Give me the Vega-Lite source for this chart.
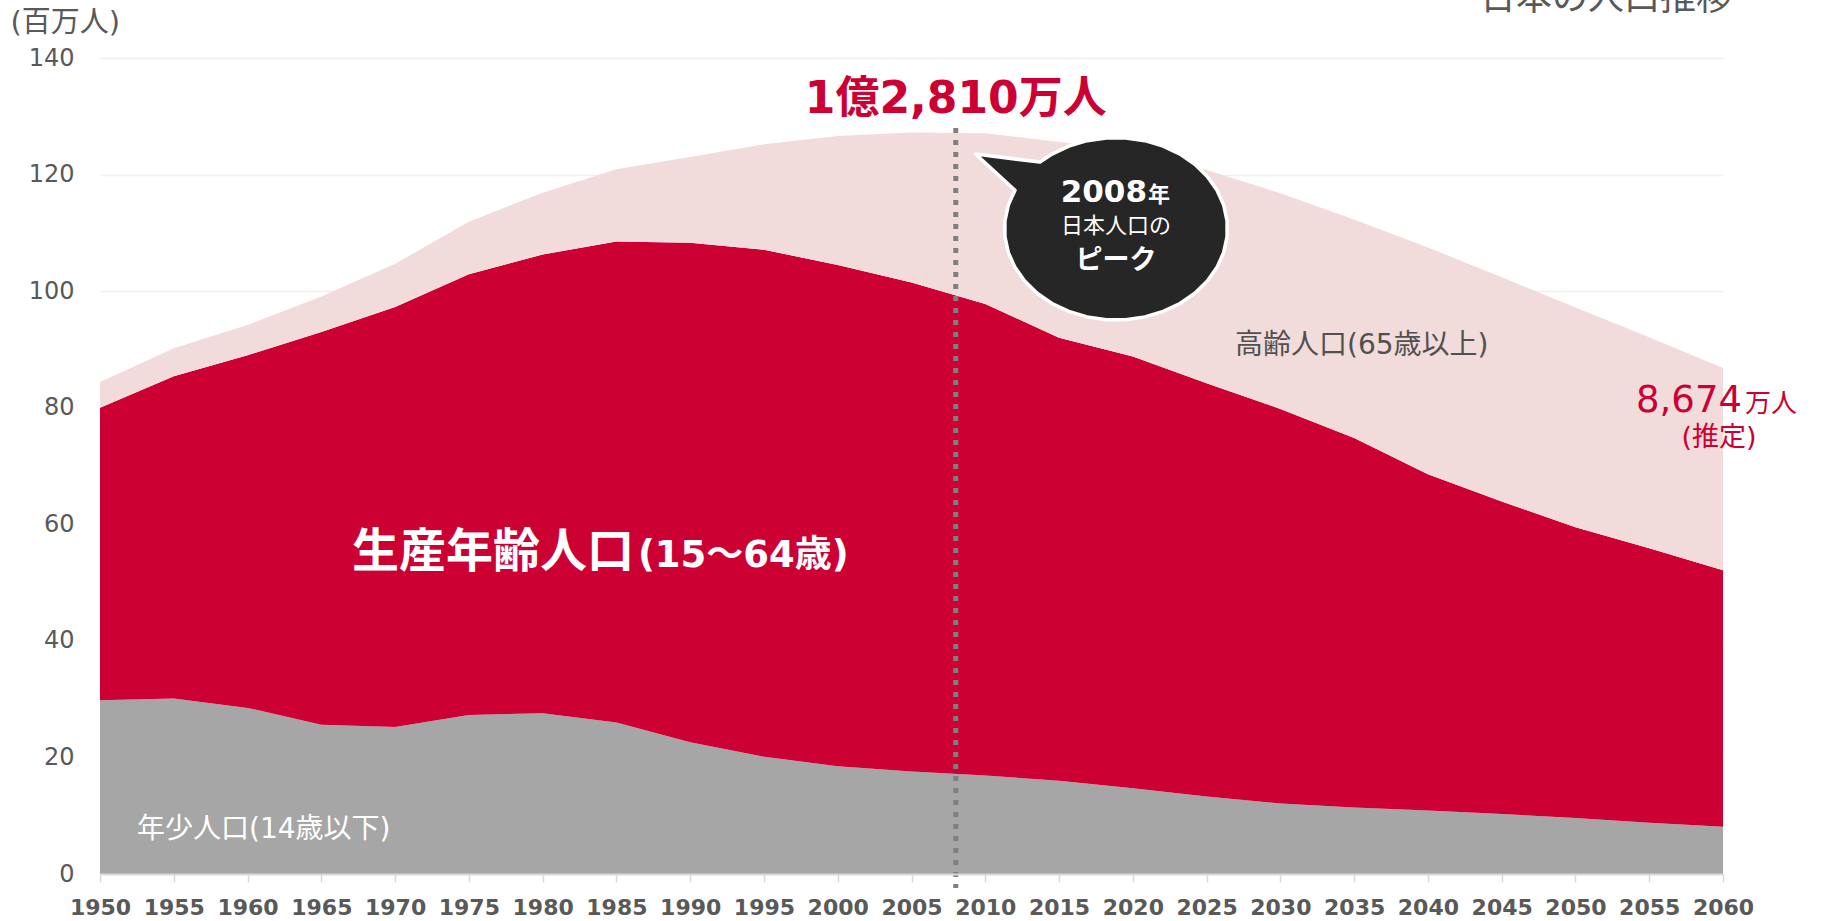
{
  "$schema": "https://vega.github.io/schema/vega-lite/v6.json",
  "width": 1623,
  "height": 816,
  "autosize": {"type": "none"},
  "padding": {"left": 100, "top": 58, "right": 98, "bottom": 47},
  "background": "white",
  "config": {"view": {"stroke": null}},
  "datasets": {
    "pop": [
      {"year": 1950, "group": "年少人口", "value": 29.8}, {"year": 1950, "group": "生産年齢人口", "value": 50.2}, {"year": 1950, "group": "高齢人口", "value": 4.4},
      {"year": 1955, "group": "年少人口", "value": 30.1}, {"year": 1955, "group": "生産年齢人口", "value": 55.3}, {"year": 1955, "group": "高齢人口", "value": 4.8},
      {"year": 1960, "group": "年少人口", "value": 28.5}, {"year": 1960, "group": "生産年齢人口", "value": 60.5}, {"year": 1960, "group": "高齢人口", "value": 5.2},
      {"year": 1965, "group": "年少人口", "value": 25.6}, {"year": 1965, "group": "生産年齢人口", "value": 67.4}, {"year": 1965, "group": "高齢人口", "value": 6.1},
      {"year": 1970, "group": "年少人口", "value": 25.2}, {"year": 1970, "group": "生産年齢人口", "value": 72.1}, {"year": 1970, "group": "高齢人口", "value": 7.4},
      {"year": 1975, "group": "年少人口", "value": 27.3}, {"year": 1975, "group": "生産年齢人口", "value": 75.6}, {"year": 1975, "group": "高齢人口", "value": 9.0},
      {"year": 1980, "group": "年少人口", "value": 27.6}, {"year": 1980, "group": "生産年齢人口", "value": 78.7}, {"year": 1980, "group": "高齢人口", "value": 10.6},
      {"year": 1985, "group": "年少人口", "value": 26.0}, {"year": 1985, "group": "生産年齢人口", "value": 82.5}, {"year": 1985, "group": "高齢人口", "value": 12.4},
      {"year": 1990, "group": "年少人口", "value": 22.6}, {"year": 1990, "group": "生産年齢人口", "value": 85.7}, {"year": 1990, "group": "高齢人口", "value": 14.7},
      {"year": 1995, "group": "年少人口", "value": 20.1}, {"year": 1995, "group": "生産年齢人口", "value": 87.0}, {"year": 1995, "group": "高齢人口", "value": 18.1},
      {"year": 2000, "group": "年少人口", "value": 18.5}, {"year": 2000, "group": "生産年齢人口", "value": 86.0}, {"year": 2000, "group": "高齢人口", "value": 22.1},
      {"year": 2005, "group": "年少人口", "value": 17.6}, {"year": 2005, "group": "生産年齢人口", "value": 83.9}, {"year": 2005, "group": "高齢人口", "value": 25.7},
      {"year": 2010, "group": "年少人口", "value": 16.9}, {"year": 2010, "group": "生産年齢人口", "value": 80.9}, {"year": 2010, "group": "高齢人口", "value": 29.3},
      {"year": 2015, "group": "年少人口", "value": 16.0}, {"year": 2015, "group": "生産年齢人口", "value": 76.0}, {"year": 2015, "group": "高齢人口", "value": 33.6},
      {"year": 2020, "group": "年少人口", "value": 14.7}, {"year": 2020, "group": "生産年齢人口", "value": 74.1}, {"year": 2020, "group": "高齢人口", "value": 35.2},
      {"year": 2025, "group": "年少人口", "value": 13.3}, {"year": 2025, "group": "生産年齢人口", "value": 70.9}, {"year": 2025, "group": "高齢人口", "value": 36.6},
      {"year": 2030, "group": "年少人口", "value": 12.1}, {"year": 2030, "group": "生産年齢人口", "value": 67.7}, {"year": 2030, "group": "高齢人口", "value": 37.0},
      {"year": 2035, "group": "年少人口", "value": 11.4}, {"year": 2035, "group": "生産年齢人口", "value": 63.4}, {"year": 2035, "group": "高齢人口", "value": 37.5},
      {"year": 2040, "group": "年少人口", "value": 10.9}, {"year": 2040, "group": "生産年齢人口", "value": 57.7}, {"year": 2040, "group": "高齢人口", "value": 38.9},
      {"year": 2045, "group": "年少人口", "value": 10.3}, {"year": 2045, "group": "生産年齢人口", "value": 53.6}, {"year": 2045, "group": "高齢人口", "value": 38.5},
      {"year": 2050, "group": "年少人口", "value": 9.6}, {"year": 2050, "group": "生産年齢人口", "value": 49.9}, {"year": 2050, "group": "高齢人口", "value": 37.7},
      {"year": 2055, "group": "年少人口", "value": 8.8}, {"year": 2055, "group": "生産年齢人口", "value": 47.1}, {"year": 2055, "group": "高齢人口", "value": 36.2},
      {"year": 2060, "group": "年少人口", "value": 8.1}, {"year": 2060, "group": "生産年齢人口", "value": 44.0}, {"year": 2060, "group": "高齢人口", "value": 34.7}
    ]
  },
  "layer": [
    {
      "data": {"name": "pop"},
      "mark": {"type": "area", "opacity": 1},
      "encoding": {
        "x": {
          "field": "year", "type": "quantitative",
          "scale": {"domain": [1950, 2060], "nice": false, "zero": false},
          "axis": {
            "title": null,
            "values": [1950, 1955, 1960, 1965, 1970, 1975, 1980, 1985, 1990, 1995, 2000, 2005, 2010, 2015, 2020, 2025, 2030, 2035, 2040, 2045, 2050, 2055, 2060],
            "format": "d", "grid": false, "zindex": 1,
            "labelFont": "DejaVu Sans", "labelFontSize": 22, "labelFontWeight": "bold", "labelColor": "#595959",
            "labelPadding": 15, "labelFlush": false, "labelOverlap": false,
            "domainColor": "#D9D9D9", "domainWidth": 2,
            "tickColor": "#D9D9D9", "tickWidth": 1.5, "tickSize": 8
          }
        },
        "y": {
          "field": "value", "type": "quantitative", "stack": "zero",
          "scale": {"domain": [0, 140], "nice": false},
          "axis": {
            "title": "(百万人)",
            "titleAngle": 0, "titleAlign": "left", "titleBaseline": "alphabetic",
            "titleX": -90, "titleY": -27,
            "titleFont": "DejaVu Sans, Noto Sans CJK JP", "titleFontSize": 29, "titleFontWeight": "normal", "titleColor": "#595959",
            "values": [0, 20, 40, 60, 80, 100, 120, 140],
            "domain": false, "ticks": false, "labelPadding": 26,
            "labelFont": "DejaVu Sans", "labelFontSize": 24, "labelColor": "#595959",
            "grid": true, "gridColor": "#F0F0F0", "gridWidth": 1.5
          }
        },
        "color": {
          "field": "group", "type": "nominal",
          "scale": {"domain": ["年少人口", "生産年齢人口", "高齢人口"], "range": ["#A6A6A6", "#CC0033", "#F2DCDB"]},
          "legend": null
        },
        "order": {"field": "group", "sort": "ascending"}
      }
    },
    {
      "data": {"values": [{"year": 2008}]},
      "mark": {"type": "rule", "color": "#7F7F7F", "strokeWidth": 5, "strokeDash": [5, 7], "strokeCap": "butt"},
      "encoding": {
        "x": {"field": "year", "type": "quantitative"},
        "y": {"datum": 128, "type": "quantitative"},
        "y2": {"datum": -2.4}
      }
    },
    {
      "data": {"values": [{"year": 2018.86, "value": 110.7}]},
      "mark": {
        "type": "point", "filled": true, "opacity": 1,
        "shape": "M -1.26 -0.67 L -0.682 -0.598 L -0.574 -0.670 L -0.423 -0.741 L -0.259 -0.790 L -0.087 -0.815 L 0.087 -0.815 L 0.259 -0.790 L 0.423 -0.741 L 0.574 -0.670 L 0.707 -0.578 L 0.819 -0.469 L 0.906 -0.346 L 0.966 -0.212 L 0.996 -0.071 L 0.996 0.071 L 0.966 0.212 L 0.906 0.346 L 0.819 0.469 L 0.707 0.578 L 0.574 0.670 L 0.423 0.741 L 0.259 0.790 L 0.087 0.815 L -0.087 0.815 L -0.259 0.790 L -0.423 0.741 L -0.574 0.670 L -0.707 0.578 L -0.819 0.469 L -0.906 0.346 L -0.966 0.212 L -0.996 0.071 L -0.996 -0.071 L -0.966 -0.212 L -0.906 -0.346 Z",
        "size": 49729, "color": "#262626", "fill": "#262626", "stroke": "#FFFFFF", "strokeWidth": 3.5, "strokeJoin": "round"
      },
      "encoding": {
        "x": {"field": "year", "type": "quantitative"},
        "y": {"field": "value", "type": "quantitative"}
      }
    },
    {
      "data": {"values": [{"label": "1億2,810万人", "year": 2008, "value": 130.6}]},
      "mark": {"type": "text", "align": "center", "baseline": "alphabetic", "font": "DejaVu Sans, Noto Sans CJK JP", "fontSize": 44, "fontWeight": "bold", "color": "#CC0033"},
      "encoding": {
        "x": {"field": "year", "type": "quantitative"},
        "y": {"field": "value", "type": "quantitative"},
        "text": {"field": "label"}
      }
    },
    {
      "data": {"values": [{"label": "2008", "year": 2018.86, "value": 115.3}]},
      "mark": {"type": "text", "align": "right", "dx": 31, "baseline": "alphabetic", "font": "DejaVu Sans", "fontSize": 31, "fontWeight": "bold", "color": "#FFFFFF"},
      "encoding": {
        "x": {"field": "year", "type": "quantitative"},
        "y": {"field": "value", "type": "quantitative"},
        "text": {"field": "label"}
      }
    },
    {
      "data": {"values": [{"label": "年", "year": 2018.86, "value": 115.3}]},
      "mark": {"type": "text", "align": "left", "dx": 32, "baseline": "alphabetic", "font": "Noto Sans CJK JP", "fontSize": 22, "fontWeight": "bold", "color": "#FFFFFF"},
      "encoding": {
        "x": {"field": "year", "type": "quantitative"},
        "y": {"field": "value", "type": "quantitative"},
        "text": {"field": "label"}
      }
    },
    {
      "data": {"values": [{"label": "日本人口の", "year": 2018.86, "value": 109.9}]},
      "mark": {"type": "text", "align": "center", "baseline": "alphabetic", "font": "Noto Sans CJK JP", "fontSize": 22, "fontWeight": "normal", "color": "#FFFFFF"},
      "encoding": {
        "x": {"field": "year", "type": "quantitative"},
        "y": {"field": "value", "type": "quantitative"},
        "text": {"field": "label"}
      }
    },
    {
      "data": {"values": [{"label": "ピーク", "year": 2018.86, "value": 103.8}]},
      "mark": {"type": "text", "align": "center", "baseline": "alphabetic", "font": "Noto Sans CJK JP", "fontSize": 27, "fontWeight": "bold", "color": "#FFFFFF"},
      "encoding": {
        "x": {"field": "year", "type": "quantitative"},
        "y": {"field": "value", "type": "quantitative"},
        "text": {"field": "label"}
      }
    },
    {
      "data": {"values": [{"label": "高齢人口(65歳以上)", "year": 2026.93, "value": 89.3}]},
      "mark": {"type": "text", "align": "left", "baseline": "alphabetic", "font": "DejaVu Sans, Noto Sans CJK JP", "fontSize": 28, "fontWeight": "normal", "color": "#505050"},
      "encoding": {
        "x": {"field": "year", "type": "quantitative"},
        "y": {"field": "value", "type": "quantitative"},
        "text": {"field": "label"}
      }
    },
    {
      "data": {"values": [{"label": "8,674", "year": 2060, "value": 79.35}]},
      "mark": {"type": "text", "align": "right", "dx": 19, "baseline": "alphabetic", "font": "DejaVu Sans", "fontSize": 37, "fontWeight": "normal", "color": "#CC0033"},
      "encoding": {
        "x": {"field": "year", "type": "quantitative"},
        "y": {"field": "value", "type": "quantitative"},
        "text": {"field": "label"}
      }
    },
    {
      "data": {"values": [{"label": "万人", "year": 2060, "value": 79.35}]},
      "mark": {"type": "text", "align": "left", "dx": 22, "baseline": "alphabetic", "font": "Noto Sans CJK JP", "fontSize": 26, "fontWeight": "normal", "color": "#CC0033"},
      "encoding": {
        "x": {"field": "year", "type": "quantitative"},
        "y": {"field": "value", "type": "quantitative"},
        "text": {"field": "label"}
      }
    },
    {
      "data": {"values": [{"label": "(推定)", "year": 2060, "value": 73.35}]},
      "mark": {"type": "text", "align": "center", "dx": -4, "baseline": "alphabetic", "font": "DejaVu Sans, Noto Sans CJK JP", "fontSize": 27, "fontWeight": "normal", "color": "#CC0033"},
      "encoding": {
        "x": {"field": "year", "type": "quantitative"},
        "y": {"field": "value", "type": "quantitative"},
        "text": {"field": "label"}
      }
    },
    {
      "data": {"values": [{"label": "生産年齢人口", "year": 1967.08, "value": 52.7}]},
      "mark": {"type": "text", "align": "left", "baseline": "alphabetic", "font": "Noto Sans CJK JP", "fontSize": 47, "fontWeight": "bold", "color": "#FFFFFF"},
      "encoding": {
        "x": {"field": "year", "type": "quantitative"},
        "y": {"field": "value", "type": "quantitative"},
        "text": {"field": "label"}
      }
    },
    {
      "data": {"values": [{"label": "(15〜64歳)", "year": 1986.46, "value": 52.7}]},
      "mark": {"type": "text", "align": "left", "baseline": "alphabetic", "font": "DejaVu Sans, Noto Sans CJK JP", "fontSize": 37, "fontWeight": "bold", "color": "#FFFFFF"},
      "encoding": {
        "x": {"field": "year", "type": "quantitative"},
        "y": {"field": "value", "type": "quantitative"},
        "text": {"field": "label"}
      }
    },
    {
      "data": {"values": [{"label": "年少人口(14歳以下)", "year": 1952.51, "value": 6.26}]},
      "mark": {"type": "text", "align": "left", "baseline": "alphabetic", "font": "DejaVu Sans, Noto Sans CJK JP", "fontSize": 28, "fontWeight": "normal", "color": "#FFFFFF"},
      "encoding": {
        "x": {"field": "year", "type": "quantitative"},
        "y": {"field": "value", "type": "quantitative"},
        "text": {"field": "label"}
      }
    },
    {
      "data": {"values": [{"label": "日本の人口推移", "year": 2060, "value": 148.15}]},
      "mark": {"type": "text", "align": "right", "dx": 9, "baseline": "alphabetic", "font": "Noto Sans CJK JP", "fontSize": 36, "fontWeight": "normal", "color": "#595959"},
      "encoding": {
        "x": {"field": "year", "type": "quantitative"},
        "y": {"field": "value", "type": "quantitative"},
        "text": {"field": "label"}
      }
    }
  ]
}
